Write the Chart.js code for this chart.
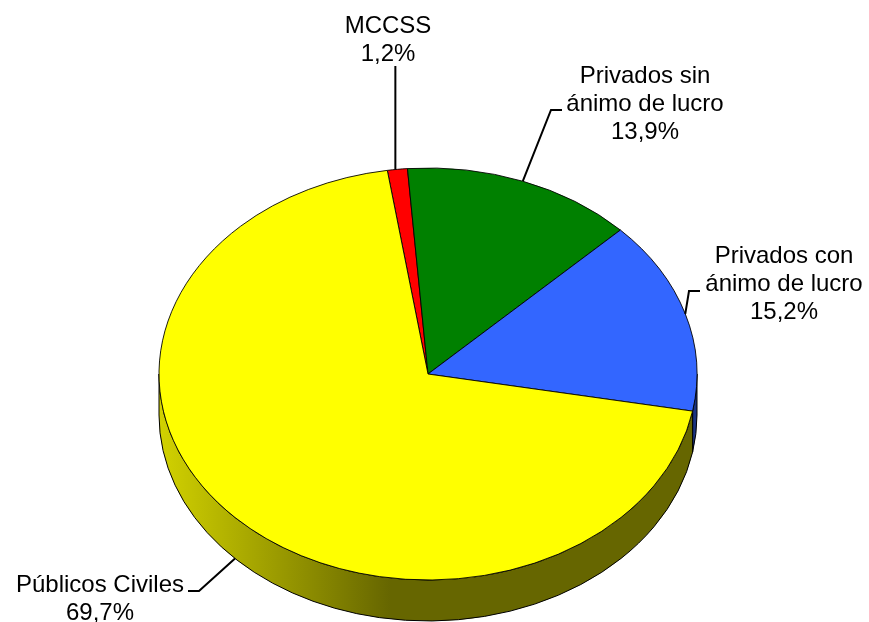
<!DOCTYPE html>
<html><head><meta charset="utf-8">
<style>html,body{margin:0;padding:0;background:#fff;overflow:hidden}#w{position:relative;width:869px;height:622px}</style>
<script src="https://cdn.jsdelivr.net/npm/chart.js@4"></script></head>
<body><div id="w"><canvas id="c" width="869" height="622"></canvas></div>
<script>
const categories = ["MCCSS", "Privados sin ánimo de lucro", "Privados con ánimo de lucro", "Públicos Civiles"];
const values = [1.2, 13.9, 15.2, 69.7];
const valueLabels = ["1,2%", "13,9%", "15,2%", "69,7%"];
const labelLines = [["MCCSS"], ["Privados sin", "ánimo de lucro"], ["Privados con", "ánimo de lucro"], ["Públicos Civiles"]];
const colors = ["#ff0000", "#008000", "#3366ff", "#ffff00"];
const sideColors = [["#800000","#800000"], ["#004000","#004000"], ["#1a3380","#1a3380"], ["#d2d200","#666600"]];

const CX = 428, CY = 374, RX = 269, RY = 206, DEPTH = 41, K = RY / RX;
const labelPos = [
  {x: 388, y: 33, elbow: null, line: [0, 66]},
  {x: 645, y: 83, elbow: [551, 110], end: [562, 110]},
  {x: 784, y: 263, elbow: [689, 291], end: [700, 291]},
  {x: 100, y: 592, elbow: [199, 591], end: [188, 591]}
];
const FONT = '24px "Liberation Sans", Arial, sans-serif';

const pie3d = {
  id: 'pie3d',
  beforeDatasetsDraw(chart) {
    const ctx = chart.ctx, arcs = chart.getDatasetMeta(0).data;
    ctx.save();
    const grad = (stops) => {
      const g = ctx.createLinearGradient(CX - RX, 0, CX - 38, 0);
      g.addColorStop(0, stops[0]); g.addColorStop(1, stops[1]); return g;
    };
    arcs.forEach((a, i) => {
      const n = [[a.startAngle, a.endAngle], [a.startAngle - 2*Math.PI, a.endAngle - 2*Math.PI]];
      n.forEach(([s0, e0]) => {
        const st = Math.max(s0, 0), en = Math.min(e0, Math.PI);
        if (en <= st) return;
        ctx.beginPath();
        ctx.ellipse(CX, CY + DEPTH, RX, RY, 0, st, en, false);
        ctx.ellipse(CX, CY, RX, RY, 0, en, st, true);
        ctx.closePath();
        ctx.fillStyle = grad(sideColors[i]);
        ctx.fill();
        ctx.strokeStyle = '#000'; ctx.lineWidth = 1; ctx.stroke();
      });
    });
    ctx.restore();
    ctx.save();
    ctx.translate(CX, CY); ctx.scale(1, K); ctx.translate(-arcs[0].x, -arcs[0].y);
  },
  afterDatasetsDraw(chart) {
    const ctx = chart.ctx, arcs = chart.getDatasetMeta(0).data;
    ctx.restore();
    ctx.save();
    ctx.strokeStyle = '#000'; ctx.lineWidth = 2; ctx.lineJoin = 'miter';
    arcs.forEach((a, i) => {
      const m = (a.startAngle + a.endAngle) / 2;
      const ax = CX + RX * Math.cos(m);
      let ay = CY + RY * Math.sin(m);
      if (Math.sin(m) > 0) ay += DEPTH;
      const p = labelPos[i];
      ctx.beginPath();
      if (p.elbow) { ctx.moveTo(ax, ay); ctx.lineTo(p.elbow[0], p.elbow[1]); ctx.lineTo(p.end[0], p.end[1]); }
      else { ctx.moveTo(ax - 2, ay); ctx.lineTo(ax - 2, p.line[1]); }
      ctx.stroke();
    });
    ctx.fillStyle = '#000'; ctx.font = FONT; ctx.textAlign = 'center'; ctx.textBaseline = 'alphabetic';
    labelPos.forEach((p, i) => {
      const lines = labelLines[i].concat([valueLabels[i]]);
      lines.forEach((t, j) => ctx.fillText(t, p.x, p.y + j * 28));
    });
    ctx.restore();
  }
};

new Chart(document.getElementById('c'), {
  type: 'pie',
  data: { labels: categories, datasets: [{ data: values, backgroundColor: colors, borderColor: '#000', borderWidth: 1, borderAlign: 'center', hoverOffset: 0 }] },
  options: {
    responsive: false, animation: false, radius: RX, rotation: -8.7,
    layout: { padding: 0 },
    plugins: { legend: { display: false }, tooltip: { enabled: false }, title: { display: false } },
    events: []
  },
  plugins: [pie3d]
});
</script></body></html>
